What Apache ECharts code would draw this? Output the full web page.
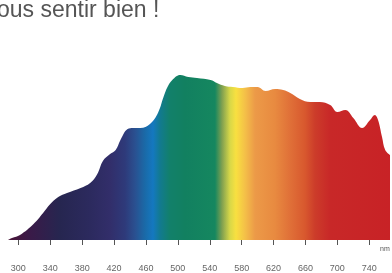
<!DOCTYPE html>
<html>
<head>
<meta charset="utf-8">
<script src="https://cdn.jsdelivr.net/npm/echarts@6/dist/echarts.min.js"></script>
<style>
html, body { margin: 0; padding: 0; background: #fff; }
#chart { width: 392px; height: 273px; }
</style>
</head>
<body>
<div id="chart"></div>
<script>
// spectre : longueur d'onde (nm) / intensité relative
const wavelengths = [287, 292, 302, 319, 331, 340, 350, 361, 378, 390, 399, 406, 415, 422, 428, 437, 444, 453, 465, 475, 482, 487, 493, 503, 513, 524, 541, 549, 559, 569, 581, 591, 600, 610, 622, 632, 641, 653, 666, 678, 691, 700, 710, 720, 731, 741, 747, 751, 756, 760, 766];
const intensity   = [0, 2, 5, 16, 27, 36, 43, 47, 52, 57, 66, 79, 86, 90, 100, 111, 112, 112, 116, 127, 143, 153, 160, 165, 163, 162, 160, 157, 154, 153, 152, 153, 153, 149, 151, 150, 147, 141, 138, 138, 135, 128, 130, 122, 112, 120, 125, 120, 103, 90, 85];
const tickValues  = [300, 340, 380, 420, 460, 500, 540, 580, 620, 660, 700, 740];

// couleurs du dégradé (position x en px, couleur)
const spectrumStops = [
	[8, '#4a1438'], [30, '#3a1a48'], [60, '#262650'], [90, '#2c2a5e'], [110, '#322e6a'],
	[125, '#2e3a7a'], [135, '#2a5090'], [145, '#1a6aa8'], [153, '#1478c0'], [160, '#127a90'],
	[170, '#12806a'], [185, '#128060'], [215, '#15875f'], [222, '#80a050'], [230, '#d8d848'],
	[236, '#f8e040'], [245, '#f4c048'], [255, '#ec9a48'], [275, '#e88a40'], [290, '#e07038'],
	[305, '#d8582e'], [315, '#cc3c2a'], [330, '#c82828'], [390, '#c82226']
];

const x0 = 8, x1 = 390;
const gradient = new echarts.graphic.LinearGradient(x0, 0, x1, 0,
	spectrumStops.map(s => ({ offset: (s[0] - x0) / (x1 - x0), color: s[1] })), true);

const chart = echarts.init(document.getElementById('chart'));
chart.setOption({
	animation: false,
	grid: { left: 8, right: 2, top: 40, bottom: 33 },
	xAxis: {
		type: 'value',
		min: 287,
		max: 766,
		offset: 12,
		axisLine: { show: false },
		splitLine: { show: false },
		axisTick: {
			show: true,
			customValues: tickValues,
			length: 5,
			lineStyle: { color: '#555', width: 1 }
		},
		axisLabel: {
			customValues: tickValues,
			margin: 12,
			fontSize: 9,
			fontFamily: 'Liberation Sans, Arial, sans-serif',
			color: '#666'
		}
	},
	yAxis: {
		type: 'value',
		min: 0,
		max: 200,
		show: false
	},
	graphic: [
		{
			type: 'text',
			left: -3,
			top: -1,
			style: {
				text: 'ous sentir bien !',
				font: '23px "Liberation Sans", Arial, sans-serif',
				fill: '#555'
			}
		},
		{
			type: 'text',
			left: 380,
			top: 246,
			style: {
				text: 'nm',
				font: '7px "Liberation Sans", Arial, sans-serif',
				fill: '#555'
			}
		}
	],
	series: [{
		type: 'line',
		data: wavelengths.map((w, i) => [w, intensity[i]]),
		smooth: 0.4,
		symbol: 'none',
		lineStyle: { width: 0 },
		areaStyle: { color: gradient, opacity: 1 }
	}]
});
</script>
</body>
</html>
